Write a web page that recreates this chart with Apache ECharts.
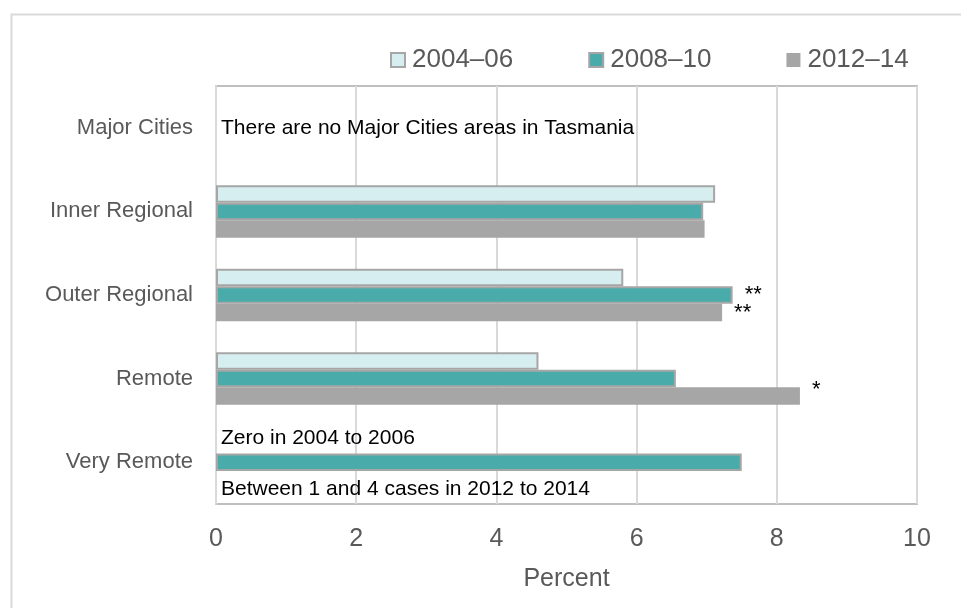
<!DOCTYPE html>
<html>
<head>
<meta charset="utf-8">
<script src="https://cdn.jsdelivr.net/npm/echarts@6/dist/echarts.min.js"></script>
<style>
html,body{margin:0;padding:0;background:#fff;}
#chart{width:961px;height:608px;}
</style>
</head>
<body>
<div id="chart"></div>
<script>
var categories = ['Major Cities', 'Inner Regional', 'Outer Regional', 'Remote', 'Very Remote'];
var seriesNames = ['2004\u201306', '2008\u201310', '2012\u201314'];
var values2004 = [null, 7.12, 5.81, 4.60, 0];
var values2008 = [0, 6.95, 7.37, 6.56, 7.50];
var values2012 = [null, 6.97, 7.22, 8.33, 0];
var marks2004 = ['', '', '', '', ''];
var marks2008 = ['', '', '**', '', ''];
var marks2012 = ['', '', '**', '*', ''];
var notes2004 = ['', '', '', '', 'Zero in 2004 to 2006'];
var notes2008 = ['There are no Major Cities areas in Tasmania', '', '', '', ''];
var notes2012 = ['', '', '', '', 'Between 1 and 4 cases in 2012 to 2014'];
var xTicks = [0, 2, 4, 6, 8, 10];

var FONT = "'Liberation Sans', Arial, sans-serif";
var fills = ['#d7eef0', '#4aabab', '#a6a6a6'];
var borders = ['#a6a6a6', '#a6a6a6', '#a6a6a6'];
var noteOffsets = [[0, -6], [0, 0], [0, 10]];

function buildData(vals, marks, notes, si) {
  return vals.map(function (v, i) {
    var item = { value: v };
    if (notes[i]) {
      item.itemStyle = { borderWidth: 0 };
      item.label = {
        show: true, position: 'right', distance: 5, formatter: notes[i],
        color: '#000', fontSize: 21, fontFamily: FONT, offset: noteOffsets[si]
      };
    } else if (marks[i]) {
      item.label = {
        show: true, position: 'right', distance: 12, formatter: marks[i],
        color: '#000', fontSize: 22, fontFamily: FONT, offset: [0, marks[i] === '*' ? -6 : 0]
      };
    }
    return item;
  });
}

var allVals = [values2004, values2008, values2012];
var allMarks = [marks2004, marks2008, marks2012];
var allNotes = [notes2004, notes2008, notes2012];

var series = seriesNames.map(function (name, si) {
  return {
    name: name,
    type: 'bar',
    barWidth: 17.5,
    barGap: '0%',
    itemStyle: {
      color: fills[si],
      borderColor: borders[si],
      borderWidth: si === 2 ? 0 : 2
    },
    label: { show: false },
    emphasis: { disabled: true },
    animation: false,
    data: buildData(allVals[si], allMarks[si], allNotes[si], si)
  };
});

var chart = echarts.init(document.getElementById('chart'), null, { renderer: 'canvas' });
chart.setOption({
  animation: false,
  textStyle: { fontFamily: FONT },
  graphic: [{
    type: 'rect', left: 9, top: 12, silent: true,
    shape: { width: 1000, height: 700 },
    style: { fill: 'none', stroke: '#d9d9d9', lineWidth: 2 }
  }],
  legend: {
    data: seriesNames,
    left: 385, top: 42,
    itemWidth: 14, itemHeight: 14, itemGap: 75,
    icon: 'rect',
    textStyle: { color: '#595959', fontSize: 26, fontFamily: FONT, padding: [0, 0, 0, 2] }
  },
  grid: {
    left: 216, top: 86, right: 44, bottom: 104,
    show: true, borderColor: '#bfbfbf', borderWidth: 2,
    containLabel: false
  },
  xAxis: {
    type: 'value', min: xTicks[0], max: xTicks[xTicks.length - 1], interval: 2,
    name: 'Percent', nameLocation: 'middle', nameGap: 63,
    nameTextStyle: { color: '#595959', fontSize: 25, fontFamily: FONT },
    axisLine: { show: false }, axisTick: { show: false },
    axisLabel: { color: '#595959', fontSize: 25, fontFamily: FONT, margin: 23 },
    splitLine: { show: true, lineStyle: { color: '#d9d9d9', width: 2 } }
  },
  yAxis: {
    type: 'category', data: categories, inverse: true,
    axisLine: { show: true, lineStyle: { color: '#d9d9d9', width: 2 } },
    axisTick: { show: false },
    axisLabel: { color: '#595959', fontSize: 22, fontFamily: FONT, margin: 23 }
  },
  series: series
});
</script>
</body>
</html>
